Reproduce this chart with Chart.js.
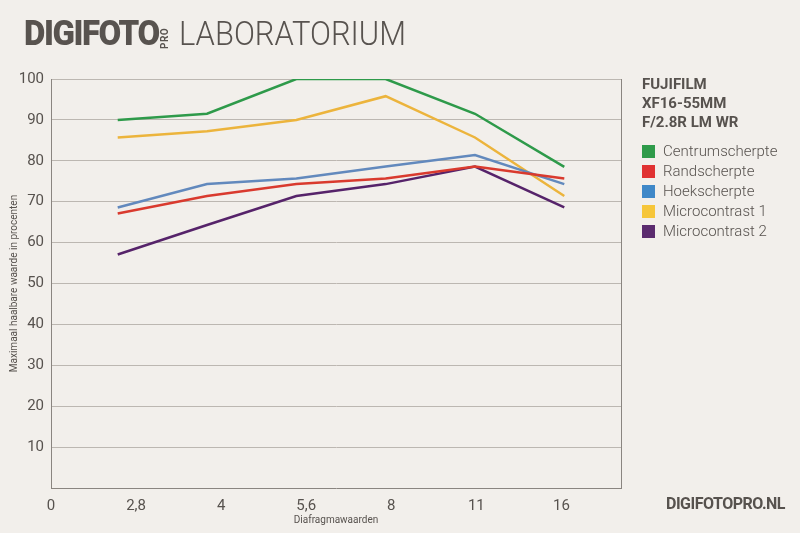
<!DOCTYPE html>
<html>
<head>
<meta charset="utf-8">
<script src="https://cdn.jsdelivr.net/npm/chart.js@4.4.1/dist/chart.umd.min.js"></script>
<style>
    body { margin: 0; background: #f2efeb; }
    #wrap { position: relative; width: 800px; height: 533px; overflow: hidden; background: #f2efeb; }
    #chart { position: absolute; left: 0; top: 0; }
    .brand { position: absolute; left: 24px; top: 13px; font-family: Roboto, sans-serif; font-weight: 900; font-size: 35px; color: #58534f; letter-spacing: -1.5px; transform: scaleX(0.94); transform-origin: left top; }
    .pro { position: absolute; left: 159px; top: 49px; font-family: Roboto, sans-serif; font-weight: 700; font-size: 10px; color: #58534f; transform: rotate(-90deg); transform-origin: left top; letter-spacing: 0.5px; }
    .lab { position: absolute; left: 179px; top: 13px; font-family: Roboto, sans-serif; font-weight: 300; font-size: 34px; color: #58534f; transform: scaleX(0.91); transform-origin: left top; }
    .lens { position: absolute; left: 642px; top: 75px; font-family: Roboto, sans-serif; font-weight: 700; font-size: 15px; line-height: 19px; color: #57524e; }
    #legend { position: absolute; left: 642px; top: 141px; font-family: Roboto, sans-serif; font-weight: 300; font-size: 15px; color: #57524e; }
    .item { height: 20px; display: flex; align-items: center; }
    .swatch { width: 13px; height: 13px; margin-right: 8px; }
    .site { position: absolute; left: 666px; top: 494px; font-family: Roboto, sans-serif; font-weight: 700; font-size: 16px; color: #57524e; letter-spacing: -0.5px; }
</style>
</head>
<body>
<div id="wrap">
    <canvas id="chart" width="800" height="533"></canvas>
    <div class="brand">DIGIFOTO</div>
    <div class="pro">PRO</div>
    <div class="lab">LABORATORIUM</div>
    <div class="lens">FUJIFILM<br>XF16-55MM<br>F/2.8R LM WR</div>
    <div id="legend"></div>
    <div class="site">DIGIFOTOPRO.NL</div>
</div>
<script>
// Diafragma labels on the x axis (first one is the axis origin)
const apertures = ['0', '2,8', '4', '5,6', '8', '11', '16'];
const yTicks = [10, 20, 30, 40, 50, 60, 70, 80, 90, 100];

// Measured values per aperture (2,8 .. 16)
const centrum = [90, 91.5, 100, 100, 91.5, 78.5];
const rand = [67.1, 71.4, 74.3, 75.7, 78.6, 75.7];
const hoek = [68.6, 74.3, 75.7, 78.6, 81.4, 74.3];
const micro1 = [85.7, 87.2, 90, 95.8, 85.7, 71.4];
const micro2 = [57.1, 64.3, 71.4, 74.3, 78.6, 68.6];

const seriesNames = ['Centrumscherpte', 'Randscherpte', 'Hoekscherpte', 'Microcontrast 1', 'Microcontrast 2'];
const seriesData = [centrum, rand, hoek, micro1, micro2];
const lineColors = ['#2e9a4a', '#d93a2e', '#6289bd', '#ecb43c', '#56236a'];
const swatchColors = ['#2f9b4a', '#e03232', '#3f88c8', '#f6c63a', '#5b2b6e'];

const gridColor = '#bcb7b1';
const borderColor = '#8a8580';
const textColor = '#57524e';

const datasets = seriesData.map((values, i) => ({
    label: seriesNames[i],
    data: values.map((v, j) => ({ x: j + 1, y: v })),
    xAxisID: 'xd',
    borderColor: lineColors[i],
    backgroundColor: lineColors[i],
    borderWidth: 2.5,
    pointRadius: 0,
    tension: 0
}));

// Right border of the plot
const frame = {
    id: 'frame',
    afterDatasetsDraw(chart) {
        const { ctx, chartArea } = chart;
        ctx.save();
        ctx.strokeStyle = borderColor;
        ctx.lineWidth = 1;
        ctx.beginPath();
        ctx.moveTo(chartArea.right + 0.5, chartArea.top);
        ctx.lineTo(chartArea.right + 0.5, chartArea.bottom);
        ctx.stroke();
        ctx.restore();
    }
};

new Chart(document.getElementById('chart'), {
    type: 'line',
    data: { datasets: datasets },
    plugins: [frame],
    options: {
        responsive: false,
        animation: false,
        layout: { padding: { left: 0, right: 179, top: 79, bottom: 0 } },
        plugins: { legend: { display: false }, tooltip: { enabled: false } },
        scales: {
            x: {
                type: 'linear',
                min: 0,
                max: 6.7,
                afterFit(scale) { scale.height = 45; },
                afterBuildTicks(scale) {
                    scale.ticks = apertures.map((_, i) => ({ value: i }));
                },
                ticks: {
                    callback: (v) => apertures[v],
                    color: textColor,
                    font: { family: 'Roboto', size: 15 },
                    padding: 1,
                    maxRotation: 0
                },
                grid: { display: false },
                border: { display: true, color: borderColor, width: 1 },
                title: {
                    display: true,
                    text: 'Diafragmawaarden',
                    color: textColor,
                    font: { family: 'Roboto', size: 10 },
                    padding: { top: 0, bottom: 7 }
                }
            },
            xd: {
                type: 'linear',
                display: false,
                min: 0.253,
                max: 6.635
            },
            y: {
                min: 0,
                max: 100,
                afterFit(scale) { scale.width = 51; },
                afterBuildTicks(scale) {
                    scale.ticks = yTicks.map(v => ({ value: v }));
                },
                ticks: {
                    color: textColor,
                    font: { family: 'Roboto', size: 15 },
                    padding: 7
                },
                grid: { color: gridColor, lineWidth: 1, drawTicks: false },
                border: { display: true, color: borderColor, width: 1 },
                title: {
                    display: true,
                    text: 'Maximaal haalbare waarde in procenten',
                    color: textColor,
                    font: { family: 'Roboto', size: 10 },
                    padding: { top: 8, bottom: 0 }
                }
            }
        }
    }
});

// HTML legend
document.getElementById('legend').innerHTML = seriesNames.map((name, i) => `
    <div class="item"><span class="swatch" style="background:${swatchColors[i]}"></span>${name}</div>
`).join('');
</script>
</body>
</html>
